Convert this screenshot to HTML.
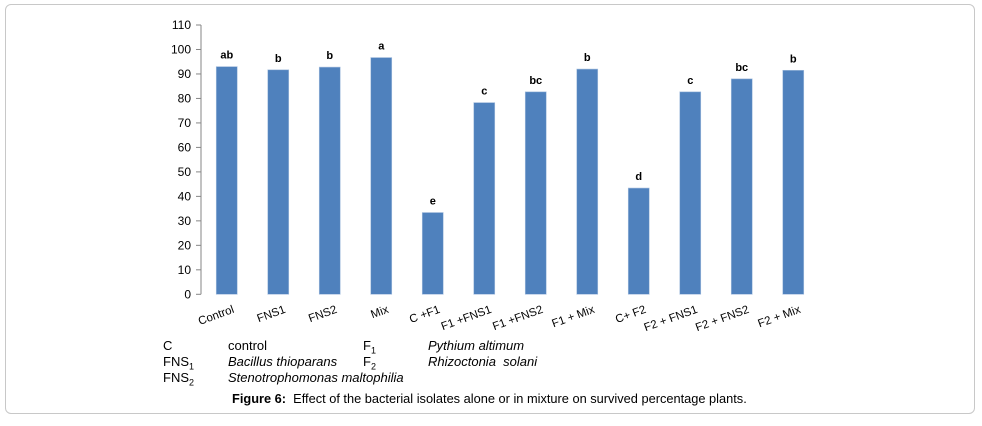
<!DOCTYPE html>
<html><head><meta charset="utf-8"><style>
body{margin:0;background:#fff;width:982px;height:426px;overflow:hidden;font-family:"Liberation Sans",sans-serif;}
#frame{position:absolute;left:5px;top:4px;width:968px;height:408px;border:1px solid #c8c8c8;border-radius:6px;}
.t{position:absolute;font-size:13px;color:#000;white-space:nowrap;}
.i{font-style:italic;}
sub{font-size:9px;}
</style></head><body>
<div id="frame"></div>
<svg id="chart" width="982" height="340" style="position:absolute;left:0;top:0"></svg>
<div class="t" style="left:163px;top:338px">C</div>
<div class="t" style="left:228px;top:338px">control</div>
<div class="t" style="left:363px;top:338px">F<sub>1</sub></div>
<div class="t i" style="left:428px;top:338px">Pythium altimum</div>
<div class="t" style="left:163px;top:354px">FNS<sub>1</sub></div>
<div class="t i" style="left:228px;top:354px">Bacillus thioparans</div>
<div class="t" style="left:363px;top:354px">F<sub>2</sub></div>
<div class="t i" style="left:428px;top:354px">Rhizoctonia&nbsp; solani</div>
<div class="t" style="left:163px;top:370px">FNS<sub>2</sub></div>
<div class="t i" style="left:228px;top:370px">Stenotrophomonas maltophilia</div>
<div class="t" style="left:232px;top:391px;font-size:12.8px"><b>Figure 6:</b>&nbsp; Effect of the bacterial isolates alone or in mixture on survived percentage plants.</div>
<script>
const categories=["Control","FNS1","FNS2","Mix","C +F1","F1 +FNS1","F1 +FNS2","F1 + Mix","C+ F2","F2 + FNS1","F2 + FNS2","F2 + Mix"];
const values=[93,91.7,92.8,96.7,33.4,78.3,82.7,92,43.4,82.7,88,91.5];
const letters=["ab","b","b","a","e","c","bc","b","d","c","bc","b"];
const ticks=[0,10,20,30,40,50,60,70,80,90,100,110];
const svg=document.getElementById('chart');
const NS="http://www.w3.org/2000/svg";
const x0=201,step=51.5,y0=294.3,yTop=25,ymax=110;
const y=v=>y0-(v/ymax)*(y0-yTop);
const xc=i=>x0+step*(i+0.5);
function mk(t,a){const e=document.createElementNS(NS,t);for(const k in a)e.setAttribute(k,a[k]);svg.appendChild(e);return e;}
let ax=mk('line',{x1:x0,y1:yTop,x2:x0,y2:y0,stroke:'#868686'});


ticks.forEach(t=>{
 const tl=mk('line',{x1:x0-5,y1:y(t),x2:x0,y2:y(t),stroke:'#868686'});
 
 
 const tx=mk('text',{x:x0-10,y:y(t)+4,'text-anchor':'end','font-size':'12','font-family':'Liberation Sans, sans-serif'});
 tx.textContent=t;
 
 
});
categories.forEach((c,i)=>{
 const b=mk('rect',{x:xc(i)-10.5,y:y(values[i]),width:21,height:y0-y(values[i]),fill:'#4f81bd',stroke:'#a7bfde','stroke-width':'0.6'});
 
 
 const l=mk('text',{x:xc(i),y:y(values[i])-8,'text-anchor':'middle','font-size':'11','font-weight':'bold','font-family':'Liberation Sans, sans-serif'});
 l.textContent=letters[i];
 
 
 const cx=xc(i)+8,cy=y0+18;
 const cl=mk('text',{x:cx,y:cy,'text-anchor':'end','font-size':'11.5','font-family':'Liberation Sans, sans-serif',transform:`rotate(-20 ${cx} ${cy})`});
 cl.textContent=c;
 
 
});
</script>
</body></html>
